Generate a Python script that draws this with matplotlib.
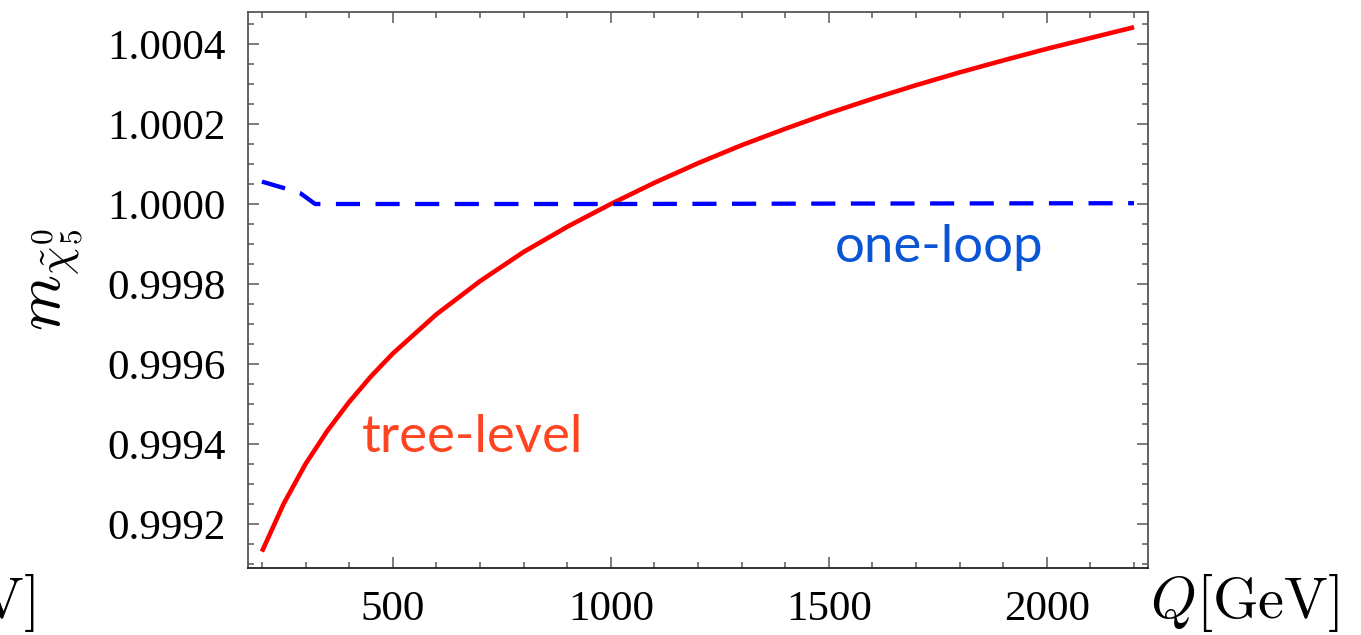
import matplotlib
matplotlib.use("Agg")
import matplotlib.pyplot as plt
from matplotlib.ticker import MultipleLocator, FuncFormatter

# values
q_tree = [200, 250, 300, 350, 400, 450, 500, 600, 700, 800, 900, 1000,
          1100, 1200, 1300, 1400, 1500, 1600, 1700, 1800, 1900, 2000,
          2100, 2200]
m_tree = [0.999131, 0.999251, 0.999350, 0.999433, 0.999505, 0.999569,
          0.999626, 0.999724, 0.999807, 0.999880, 0.999943, 1.000000,
          1.000053, 1.000102, 1.000147, 1.000188, 1.000227, 1.000263,
          1.000297, 1.000329, 1.000359, 1.000388, 1.000415, 1.000442]

q_loop = [200, 253, 288, 322, 500, 1000, 1500, 2200]
m_loop = [1.000056, 1.000039, 1.000027, 1.000000, 1.000000, 1.000000,
          1.000001, 1.000002]

plt.rcParams['mathtext.fontset'] = 'cm'

fig = plt.figure(figsize=(13.61, 6.35), dpi=100)
ax = fig.add_axes([0.1822, 0.1055, 0.6613, 0.8756])

ax.plot(q_tree, m_tree, color='#ff0000', lw=3.3, solid_capstyle='butt',
        solid_joinstyle='round')
l, = ax.plot(q_loop, m_loop, color='#0000ff', lw=3.1, dash_capstyle='butt')
l.set_dashes([5.6, 3.6])

ax.set_xlim(168, 2232)
ax.set_ylim(0.99909, 1.00048)

ax.xaxis.set_major_locator(MultipleLocator(500))
ax.xaxis.set_minor_locator(MultipleLocator(100))
ax.yaxis.set_major_locator(MultipleLocator(0.0002))
ax.yaxis.set_minor_locator(MultipleLocator(0.00005))
ax.yaxis.set_major_formatter(FuncFormatter(lambda v, p: '%.4f' % v))

ax.tick_params(which='both', direction='in', top=True, right=True,
               color='#666666', width=1.2)
ax.tick_params(which='major', length=8, labelsize=31, pad=16)
ax.tick_params(which='minor', length=4.5)
for lab in ax.get_xticklabels() + ax.get_yticklabels():
    lab.set_fontfamily('Liberation Serif')
for s in ax.spines.values():
    s.set_color('#555555')
    s.set_linewidth(1.3)
ax.spines['bottom'].set_color('#222222')

ax.text(0.127, 0.209, 'tree-level', transform=ax.transAxes, color='#ff4422',
        fontsize=38, family='Lato', va='baseline')
ax.text(0.652, 0.550, 'one-loop', transform=ax.transAxes, color='#0a55d6',
        fontsize=38, family='Lato', va='baseline')

fig.text(0.040, 0.560, r'$m_{\tilde{\chi}^0_5}$', rotation=90, fontsize=46,
         ha='center', va='center')
fig.text(0.845, 0.050, r'$Q[\mathrm{GeV}]$', fontsize=42, ha='left', va='center')
fig.text(0.026, 0.050, r'$Q[\mathrm{GeV}]$', fontsize=42, ha='right', va='center')

fig.savefig('out.png', dpi=100)
